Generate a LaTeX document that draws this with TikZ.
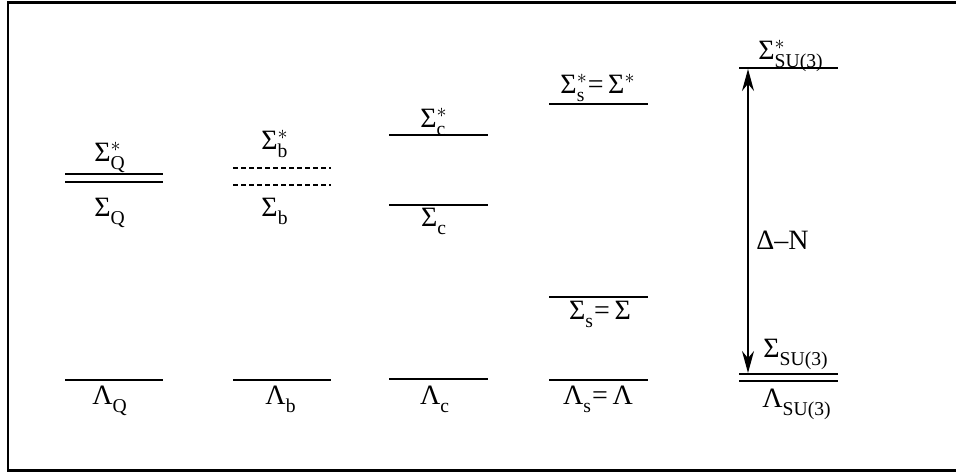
\documentclass[tikz,border=0pt]{standalone}
\usepackage{amsmath}
\usepackage{fontspec}
\setmainfont{Liberation Serif}
\usetikzlibrary{arrows.meta}

\newcommand{\lv}[3]{$\text{#1}^{#2}_{\text{#3}}$}

\begin{document}
\begin{tikzpicture}[
    x=0.5pt, y=-0.5pt,
    level/.style={line width=1.1pt},
    dlevel/.style={level, dash pattern=on 2.5pt off 1.5pt},
    lbl/.style={font=\fontsize{14}{16}\selectfont, inner sep=0pt, anchor=base},
    arrow/.style={{Stealth[length=11pt,width=6pt]}-{Stealth[length=11pt,width=6pt]}, line width=0.9pt},
]
\useasboundingbox (0,0) rectangle (956,474);
\draw[line width=1.4pt] (8,2.5) rectangle (970,470.5);

% heavy quark Q
\draw[level] (65,174) -- (163,174);
\draw[level] (65,182) -- (163,182);
\draw[level] (65,380) -- (163,380);
\node[lbl] (sigQs) at (110,162) {\lv{Σ}{*}{Q}};
\node[lbl] (sigQ) at (110,217) {\lv{Σ}{}{Q}};
\node[lbl] (lamQ) at (110,405) {\lv{Λ}{}{Q}};

% bottom
\draw[dlevel] (233,168) -- (331,168);
\draw[dlevel] (233,185) -- (331,185);
\draw[level] (233,380) -- (331,380);
\node[lbl] (sigbs) at (275,150) {\lv{Σ}{*}{b}};
\node[lbl] (sigb) at (275,217) {\lv{Σ}{}{b}};
\node[lbl] (lamb) at (281,405) {\lv{Λ}{}{b}};

% charm
\draw[level] (389,135) -- (488,135);
\draw[level] (389,205) -- (488,205);
\draw[level] (389,379) -- (488,379);
\node[lbl] (sigcs) at (434,128) {\lv{Σ}{*}{c}};
\node[lbl] (sigc) at (434,227) {\lv{Σ}{}{c}};
\node[lbl] (lamc) at (435,405) {\lv{Λ}{}{c}};

% strange
\draw[level] (549,104) -- (648,104);
\draw[level] (549,297) -- (648,297);
\draw[level] (549,380) -- (648,380);
\node[lbl] (sigss) at (598,94) {\lv{Σ}{*}{s}=\,\lv{Σ}{*}{}};
\node[lbl] (sigs) at (600,320) {\lv{Σ}{}{s}=\,Σ};
\node[lbl] (lams) at (598,405) {\lv{Λ}{}{s}=\,Λ};

% SU(3) limit
\draw[level] (739,68) -- (838,68);
\draw[level] (739,374) -- (838,374);
\draw[level] (739,381) -- (838,381);
\node[lbl] (sigus) at (791,60) {\lv{Σ}{*}{SU(3)}};
\node[lbl] (sigu) at (796,358) {\lv{Σ}{}{SU(3)}};
\node[lbl] (lamu) at (797,408) {\lv{Λ}{}{SU(3)}};

\coordinate (top) at (748,69);
\coordinate (bot) at (748,373);
\draw[arrow] (bot) -- (top);
\node[lbl, anchor=west] (dn) at (756,240) {Δ–N};

\end{tikzpicture}
\end{document}
